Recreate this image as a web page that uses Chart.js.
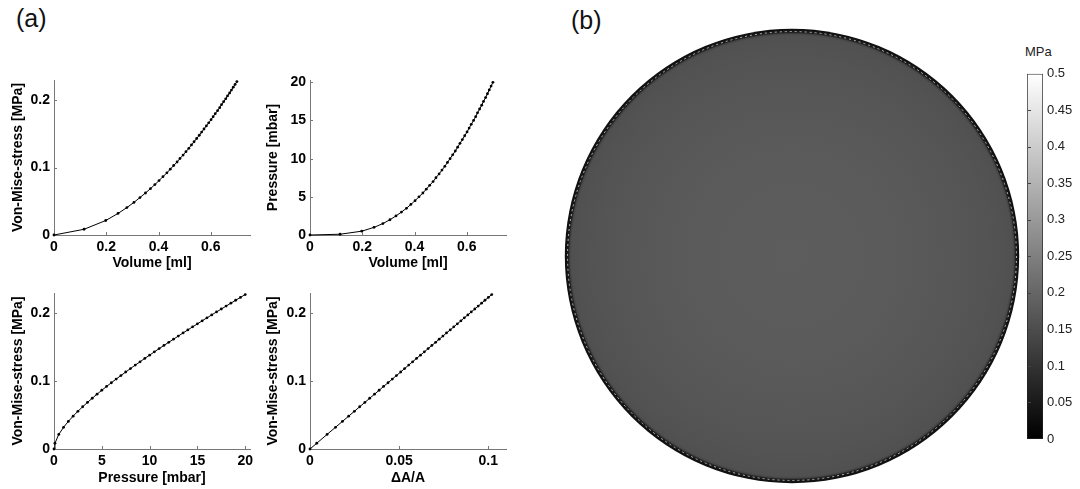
<!DOCTYPE html>
<html>
<head>
<meta charset="utf-8">
<script src="https://cdn.jsdelivr.net/npm/chart.js@4.4.1/dist/chart.umd.min.js"></script>
<style>
  html, body { margin: 0; padding: 0; background: #fff; }
  body { width: 1080px; height: 489px; position: relative; overflow: hidden; font-family: 'Liberation Sans', Arial, sans-serif; }
  canvas { position: absolute; }
  .tag { position: absolute; font-size: 25px; color: #111; }
  .unit { position: absolute; font-size: 13px; color: #222; }
</style>
</head>
<body>
<div class="tag" style="left:16px; top:4px">(a)</div>
<div class="tag" style="left:571px; top:6px">(b)</div>
<div class="unit" style="left:1025px; top:44px">MPa</div>

<canvas id="p1" width="262" height="215" style="left:0; top:60px"></canvas>
<canvas id="p2" width="262" height="215" style="left:256px; top:60px"></canvas>
<canvas id="p3" width="262" height="216" style="left:0; top:273px"></canvas>
<canvas id="p4" width="262" height="216" style="left:256px; top:273px"></canvas>
<canvas id="disc" width="468" height="468" style="left:558px; top:22px"></canvas>
<canvas id="cbar" width="53" height="390" style="left:1027px; top:62px"></canvas>

<script>
// membrane inflation results, one entry per load step
const pressure = [0, 0.1, 0.5, 1, 1.5, 2, 2.5, 3, 3.5, 4, 4.5, 5, 5.5, 6, 6.5, 7, 7.5, 8, 8.5, 9, 9.5, 10,
  10.5, 11, 11.5, 12, 12.5, 13, 13.5, 14, 14.5, 15, 15.5, 16, 16.5, 17, 17.5, 18, 18.5, 19, 19.5, 20];
const volume = [0, 0.115, 0.198, 0.245, 0.279, 0.306, 0.329, 0.350, 0.369, 0.386, 0.402, 0.417, 0.432, 0.445,
  0.458, 0.471, 0.482, 0.494, 0.505, 0.516, 0.526, 0.536, 0.546, 0.556, 0.565, 0.574, 0.583, 0.592, 0.601,
  0.609, 0.617, 0.626, 0.634, 0.641, 0.649, 0.657, 0.664, 0.672, 0.679, 0.686, 0.693, 0.700];
const stress = [0, 0.0085, 0.0215, 0.0320, 0.0407, 0.0484, 0.0556, 0.0623, 0.0687, 0.0748, 0.0808, 0.0866,
  0.0922, 0.0977, 0.1031, 0.1083, 0.1135, 0.1186, 0.1237, 0.1286, 0.1336, 0.1384, 0.1432, 0.1480, 0.1527,
  0.1573, 0.1619, 0.1665, 0.1711, 0.1756, 0.1801, 0.1845, 0.1890, 0.1934, 0.1977, 0.2021, 0.2064, 0.2107,
  0.2150, 0.2193, 0.2235, 0.2277];
const areaStrain = [0, 0.0038, 0.0096, 0.0143, 0.0182, 0.0217, 0.0249, 0.0279, 0.0308, 0.0335, 0.0362, 0.0388,
  0.0413, 0.0438, 0.0462, 0.0485, 0.0509, 0.0531, 0.0554, 0.0576, 0.0598, 0.0620, 0.0642, 0.0663, 0.0684,
  0.0705, 0.0725, 0.0746, 0.0766, 0.0787, 0.0807, 0.0827, 0.0847, 0.0866, 0.0886, 0.0905, 0.0925, 0.0944,
  0.0963, 0.0982, 0.1001, 0.1020];

const volTicks = [0, 0.2, 0.4, 0.6];
const pressTicks = [0, 5, 10, 15, 20];
const stressTicks = [0, 0.1, 0.2];
const strainTicks = [0, 0.05, 0.1];

// stress field of the inflated membrane (b), radial profile r/R -> MPa
const ringR = [0, 0.25, 0.5, 0.7, 0.85, 0.93, 0.97, 0.978, 0.984, 0.992, 1.0];
const ringStress = [0.183, 0.181, 0.176, 0.170, 0.164, 0.160, 0.156, 0.135, 0.06, 0.04, 0.025];
const rimStress = 0.36;
const cbMax = 0.5;
const cbTicks = [0, 0.05, 0.1, 0.15, 0.2, 0.25, 0.3, 0.35, 0.4, 0.45, 0.5];

Chart.defaults.font.family = "'Liberation Sans', Arial, sans-serif";
Chart.defaults.color = '#000';

const gray = v => { const c = Math.round(Math.max(0, Math.min(1, v / cbMax)) * 255); return `rgb(${c},${c},${c})`; };
const fmt = v => String(+v.toFixed(3));

// matlab style ticks pointing into the axes
const innerTicks = {
    id: 'innerTicks',
    afterDraw(chart) {
        const {ctx, chartArea: a, scales: {x, y}} = chart;
        ctx.save();
        ctx.strokeStyle = '#777'; ctx.lineWidth = 1;
        ctx.beginPath();
        x.ticks.forEach(t => {
            if (t.value === x.min) return;
            const px = Math.round(x.getPixelForValue(t.value)) + 0.5;
            ctx.moveTo(px, a.bottom); ctx.lineTo(px, a.bottom - 3);
        });
        y.ticks.forEach(t => {
            if (t.value === y.min) return;
            const py = Math.round(y.getPixelForValue(t.value)) + 0.5;
            ctx.moveTo(a.left, py); ctx.lineTo(a.left + 3, py);
        });
        ctx.stroke();
        ctx.restore();
    }
};

function plot(id, xs, ys, xMax, yMax, xTicks, yTicks, xTitle, yTitle, titlePad, bottomPad) {
    const pts = xs.map((v, i) => ({x: v, y: ys[i]}));
    const bold = {size: 14, weight: 'bold'};
    new Chart(document.getElementById(id), {
        type: 'scatter',
        data: { datasets: [{ data: pts, showLine: true, borderColor: '#000', borderWidth: 1,
            pointRadius: 1.4, pointBackgroundColor: '#000', pointBorderWidth: 0, clip: false }] },
        options: {
            responsive: false, animation: false,
            layout: { padding: { top: 20, right: 12 } },
            plugins: { legend: { display: false }, tooltip: { enabled: false } },
            scales: {
                x: { type: 'linear', min: 0, max: xMax,
                    afterBuildTicks: s => { s.ticks = xTicks.map(v => ({value: v})); },
                    afterFit: s => { s.height = 40; },
                    grid: { display: false, drawTicks: false }, border: { color: '#777', width: 1 },
                    ticks: { font: bold, padding: 4, maxRotation: 0, callback: fmt },
                    title: { display: true, text: xTitle, font: bold, padding: { top: 0, bottom: bottomPad } } },
                y: { type: 'linear', min: 0, max: yMax,
                    afterBuildTicks: s => { s.ticks = yTicks.map(v => ({value: v})); },
                    afterFit: s => { s.width = 54; },
                    grid: { display: false, drawTicks: false }, border: { color: '#777', width: 1 },
                    ticks: { font: bold, padding: 4, callback: fmt },
                    title: { display: true, text: yTitle, font: bold, padding: { top: titlePad, bottom: 0 } } }
            }
        },
        plugins: [innerTicks]
    });
}

plot('p1', volume, stress, 0.75, 0.23, volTicks, stressTicks, 'Volume [ml]', 'Von-Mise-stress [MPa]', 10, 3);
plot('p2', volume, pressure, 0.75, 20.3, volTicks, pressTicks, 'Volume [ml]', 'Pressure [mbar]', 9, 3);
plot('p3', pressure, stress, 20.5, 0.23, pressTicks, stressTicks, 'Pressure [mbar]', 'Von-Mise-stress [MPa]', 10, 2);
plot('p4', areaStrain, stress, 0.11, 0.23, strainTicks, stressTicks, '\u0394A/A', 'Von-Mise-stress [MPa]', 9, 2);

// top view of the membrane, coloured by stress
const discPlugin = {
    id: 'disc',
    beforeDatasetsDraw(chart) {
        const {ctx, scales: {x, y}} = chart;
        const cx = x.getPixelForValue(0), cy = y.getPixelForValue(0);
        const R = x.getPixelForValue(1) - cx;
        const g = ctx.createRadialGradient(cx, cy, 0, cx, cy, R);
        ringR.forEach((r, i) => g.addColorStop(r, gray(ringStress[i])));
        ctx.save();
        ctx.fillStyle = g;
        ctx.beginPath(); ctx.arc(cx, cy, R, 0, 2 * Math.PI); ctx.fill();
        ctx.strokeStyle = gray(rimStress); ctx.lineWidth = 1;
        ctx.setLineDash([2, 3]);
        ctx.beginPath(); ctx.arc(cx, cy, R * 0.988, 0, 2 * Math.PI); ctx.stroke();
        ctx.restore();
    }
};

new Chart(document.getElementById('disc'), {
    type: 'scatter',
    data: { datasets: [] },
    options: {
        responsive: false, animation: false,
        plugins: { legend: { display: false }, tooltip: { enabled: false } },
        scales: { x: { display: false, min: -1.03, max: 1.03 }, y: { display: false, min: -1.03, max: 1.03 } }
    },
    plugins: [discPlugin]
});

const cbTickMarks = {
    id: 'cbTickMarks',
    afterDraw(chart) {
        const {ctx, chartArea: a, scales: {y}} = chart;
        ctx.save();
        ctx.strokeStyle = '#444'; ctx.lineWidth = 1;
        ctx.beginPath();
        y.ticks.forEach(t => {
            if (t.value === y.min || t.value === y.max) return;
            const py = Math.round(y.getPixelForValue(t.value)) + 0.5;
            ctx.moveTo(a.left + 1, py); ctx.lineTo(a.left + 4, py);
        });
        ctx.stroke();
        ctx.restore();
    }
};

new Chart(document.getElementById('cbar'), {
    type: 'bar',
    data: { labels: [''], datasets: [{
        data: [cbMax],
        backgroundColor: c => {
            const a = c.chart.chartArea;
            if (!a) return '#777';
            const g = c.chart.ctx.createLinearGradient(0, a.bottom, 0, a.top);
            g.addColorStop(0, gray(0)); g.addColorStop(1, gray(cbMax));
            return g;
        },
        borderColor: '#222', borderWidth: 1, borderSkipped: false,
        barPercentage: 1, categoryPercentage: 1 }] },
    options: {
        responsive: false, animation: false,
        layout: { padding: { top: 10, bottom: 13 } },
        plugins: { legend: { display: false }, tooltip: { enabled: false } },
        scales: {
            x: { display: false },
            y: { position: 'right', min: 0, max: cbMax,
                afterBuildTicks: s => { s.ticks = cbTicks.map(v => ({value: v})); },
                afterFit: s => { s.width = 37; },
                grid: { display: false, drawTicks: false }, border: { display: false },
                ticks: { padding: 4, color: '#222', font: { size: 13 }, callback: fmt } }
        }
    },
    plugins: [cbTickMarks]
});
</script>
</body>
</html>
